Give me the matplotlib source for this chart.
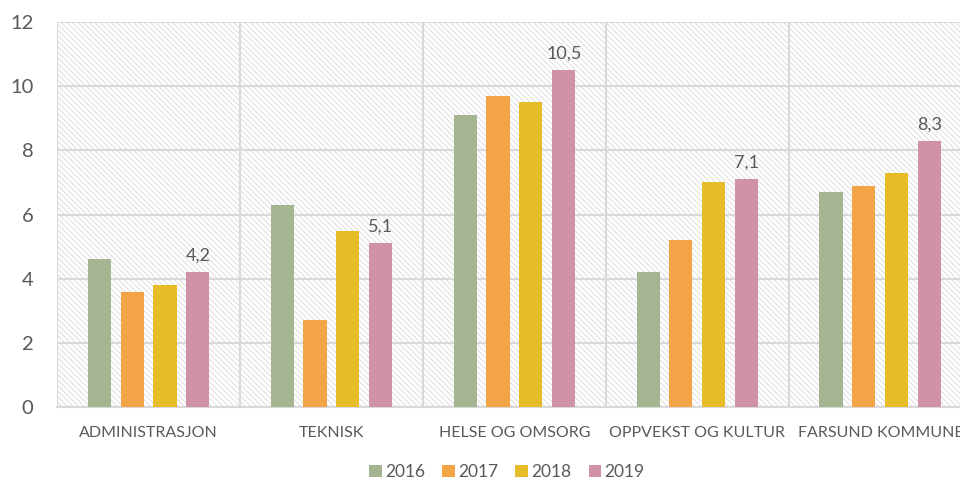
import matplotlib
matplotlib.use('Agg')
import matplotlib.pyplot as plt
import numpy as np

# data
categories = ['ADMINISTRASJON', 'TEKNISK', 'HELSE OG OMSORG', 'OPPVEKST OG KULTUR', 'FARSUND KOMMUNE']
years = ['2016', '2017', '2018', '2019']
v2016 = [4.6, 6.3, 9.1, 4.2, 6.7]
v2017 = [3.6, 2.7, 9.7, 5.2, 6.9]
v2018 = [3.8, 5.5, 9.5, 7.0, 7.3]
v2019 = [4.2, 5.1, 10.5, 7.1, 8.3]
yticks = [0, 2, 4, 6, 8, 10, 12]

colors = ['#A5B592', '#F3A447', '#E7BC29', '#D092A7']
txt = '#595959'
grid = '#D9D9D9'

plt.rcParams['font.family'] = ['Lato', 'DejaVu Sans']
plt.rcParams['hatch.color'] = '#DDDDDD'
plt.rcParams['hatch.linewidth'] = 0.7

fig = plt.figure(figsize=(9.6, 4.84), dpi=100)
ax = fig.add_axes([0.0594, 0.159, 0.953, 0.7955])

# hatched plot background
ax.add_patch(plt.Rectangle((0, 0), 1, 1, transform=ax.transAxes, facecolor='white',
                           edgecolor='#DDDDDD', hatch='\\' * 6, linewidth=0, zorder=0))

x = np.arange(len(categories))
step = 0.18
width = 0.126
series = [v2016, v2017, v2018, v2019]
for i, vals in enumerate(series):
    bars = ax.bar(x + (i - 1.5) * step, vals, width, color=colors[i], label=years[i], zorder=3)
    if i == 3:
        ax.bar_label(bars, labels=[f'{v:.1f}'.replace('.', ',') for v in vals],
                     padding=6, fontsize=13, color=txt)

ax.set_xlim(-0.5, 4.5)
ax.set_ylim(0, 12)
ax.set_yticks(yticks)
ax.set_yticklabels([str(t) for t in yticks], fontsize=14.5, color=txt)
ax.set_xticks(x)
ax.set_xticklabels(categories, fontsize=11.5, color=txt)
ax.set_xticks(np.arange(-0.5, 5.0, 1.0), minor=True)
ax.tick_params(axis='both', which='both', length=0)
ax.tick_params(axis='y', pad=17)
ax.tick_params(axis='x', pad=14)

ax.grid(axis='y', color=grid, linewidth=1.5, zorder=1)
ax.grid(axis='x', which='minor', color=grid, linewidth=1.5, zorder=1)
ax.grid(axis='x', which='major', visible=False)
for s in ['top', 'right', 'left']:
    ax.spines[s].set_visible(False)
ax.spines['bottom'].set_color(grid)
ax.spines['bottom'].set_linewidth(1.5)

fig.legend(loc='center', bbox_to_anchor=(0.528, 0.024), ncol=4, frameon=False,
           fontsize=12.5, labelcolor=txt, handlelength=0.7, handleheight=0.7,
           handletextpad=0.2, columnspacing=1.0, borderpad=0.2)

fig.savefig('out.png', dpi=100)
